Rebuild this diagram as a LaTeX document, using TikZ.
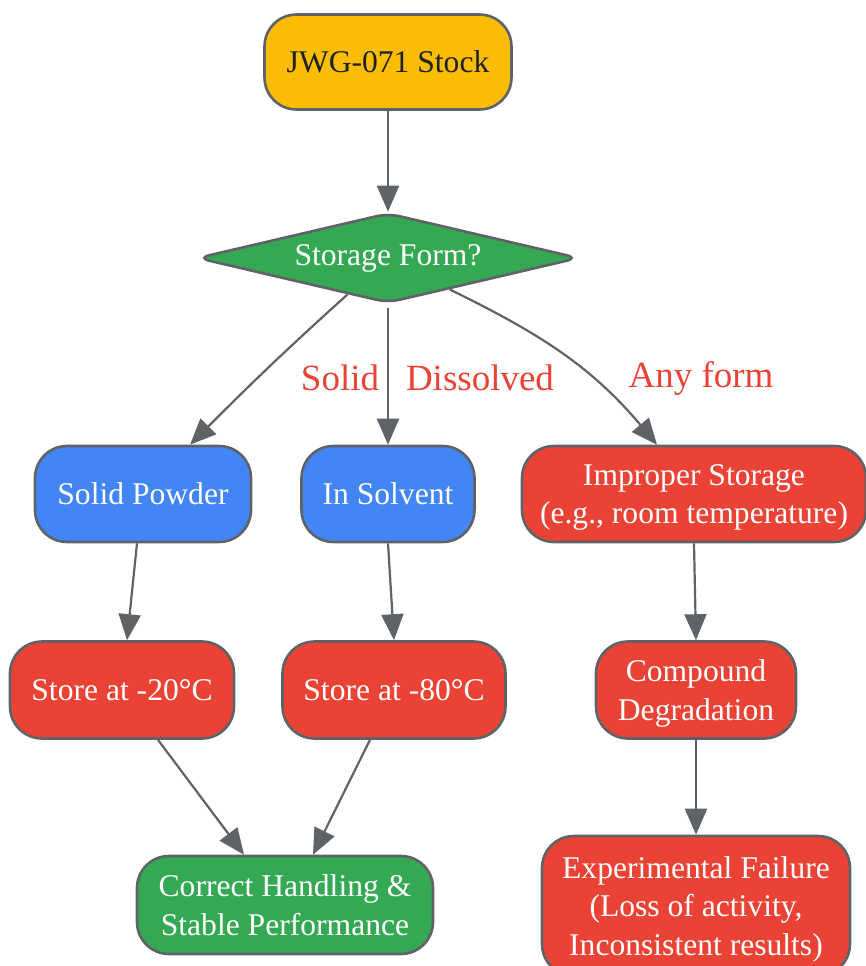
\documentclass[tikz,border=0pt]{standalone}
\usepackage{fontspec}
\setmainfont{Liberation Serif}
\usetikzlibrary{shapes.geometric, arrows.meta}
\definecolor{gyellow}{HTML}{FBBC04}
\definecolor{ggreen}{HTML}{34A853}
\definecolor{gblue}{HTML}{4285F4}
\definecolor{gred}{HTML}{EA4335}
\definecolor{ggray}{HTML}{5F6368}
\definecolor{gdark}{HTML}{202124}
\begin{document}
\begin{tikzpicture}[x=0.5pt, y=-0.5pt,
    box/.style={draw=ggray, line width=1.3pt, rounded corners=16pt, inner sep=0pt, text depth=0pt,
      align=center, text=white, font=\fontsize{15.8pt}{19.3pt}\selectfont},
    decision/.style={diamond, aspect=4.3, draw=ggray, line width=1.3pt, rounded corners=6pt, inner sep=0pt,
      fill=ggreen, text=white, font=\fontsize{15.8pt}{19.3pt}\selectfont},
    arrow/.style={draw=ggray, line width=1.1pt, -{Triangle[length=13pt, width=11pt]}},
    choice/.style={text=gred, font=\fontsize{18.5pt}{22pt}\selectfont}]
        \useasboundingbox (0,0) rectangle (866,966);
        % Top
        \node[box, fill=gyellow, text=gdark, minimum width=123.5pt, minimum height=47.5pt] (stock) at (388,62) {JWG-071 Stock};
        \node[decision, minimum width=191pt, minimum height=45pt] (form) at (388,258) {Storage Form?};
        % Forms
        \node[box, fill=gblue, minimum width=108pt, minimum height=48pt] (powder) at (143,494) {Solid Powder};
        \node[box, fill=gblue, minimum width=86.5pt, minimum height=48pt] (solvent) at (388,494) {In Solvent};
        \node[box, fill=gred, minimum width=172pt, minimum height=48pt] (improper) at (694,494) {Improper Storage\\(e.g., room temperature)};
        % Storage
        \node[box, fill=gred, minimum width=112pt, minimum height=48.5pt] (minus20) at (122,690) {Store at -20°C};
        \node[box, fill=gred, minimum width=111.5pt, minimum height=48.5pt] (minus80) at (394,690) {Store at -80°C};
        \node[box, fill=gred, minimum width=100pt, minimum height=48.5pt] (degrad) at (696,690) {Compound\\Degradation};
        % Outcomes
        \node[box, fill=ggreen, minimum width=148pt, minimum height=49pt] (correct) at (285,905) {Correct Handling \&\\Stable Performance};
        \node[box, fill=gred, minimum width=154pt, minimum height=70pt] (failure) at (696,906) {Experimental Failure\\(Loss of activity,\\Inconsistent results)};
        % Edges
        \draw[arrow] (stock) -- (form);
        \draw[arrow] (form.222) to[out=-138, in=45] ([xshift=23.5pt]powder.north);
        \draw[arrow] ([yshift=-2pt]form.south) -- (solvent.north);
        \draw[arrow] (form.-27) to[out=-26, in=130] ([xshift=-18.5pt]improper.north);
        \draw[arrow] ([xshift=-3pt]powder.south) -- ([xshift=2.5pt]minus20.north);
        \draw[arrow] (solvent.south) -- (minus80.north);
        \draw[arrow] (improper.south) -- (degrad.north);
        \draw[arrow] (degrad.south) -- (failure.north);
        \draw[arrow] ([xshift=18pt]minus20.south) -- ([xshift=-20.5pt]correct.north);
        \draw[arrow] ([xshift=-12pt]minus80.south) -- ([xshift=14pt]correct.north);
        % Labels
        \node[choice] (solidlbl) at (340,378) {Solid};
        \node[choice] (dissolvedlbl) at (480,378) {Dissolved};
        \node[choice] (anylbl) at (701,378) {Any form};
\end{tikzpicture}
\end{document}
